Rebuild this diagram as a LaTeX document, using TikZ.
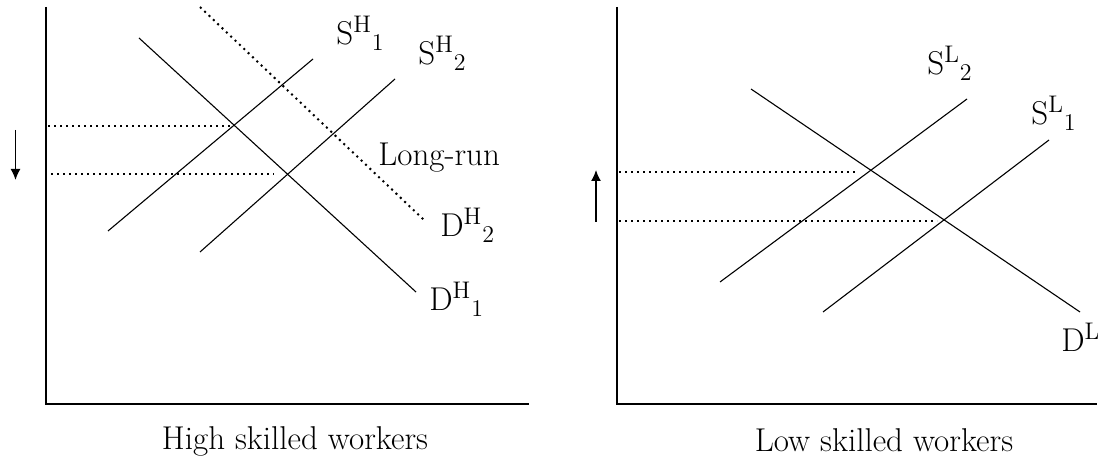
\documentclass[tikz,border=0pt]{standalone}
\usepackage{tikz}
\usetikzlibrary{arrows.meta,positioning}

\begin{document}
\begin{tikzpicture}[x=0.5pt, y=-0.5pt,
    every node/.style={font=\fontsize{16.5}{18}\selectfont, inner sep=0pt},
    curve/.style={line width=0.55pt},
    guide/.style={line width=1pt, dotted},
    axis/.style={line width=0.7pt},
    wagearrow/.style={line width=0.7pt, -{Latex[length=5.5pt,width=5pt]}}]
  \useasboundingbox (0,0) rectangle (1098,464);
  % high skilled panel
  \coordinate (hO) at (46,404);
  \coordinate (hY) at (46,7);
  \coordinate (hX) at (529,404);
  \draw[axis] (hY) -- (hO) -- (hX);
  \coordinate (dha) at (139,38);   \coordinate (dhb) at (416,292);
  \coordinate (sha) at (108,231);  \coordinate (shb) at (313,59);
  \coordinate (sua) at (200,252);  \coordinate (sub) at (395,79);
  \coordinate (dla) at (200,7);    \coordinate (dlb) at (424,220);
  \draw[curve] (dha) -- (dhb);
  \draw[curve] (sha) -- (shb);
  \draw[curve] (sua) -- (sub);
  \draw[guide] (dla) -- (dlb);
  \coordinate (hp1) at (48,126);  \coordinate (he1) at (232,126);
  \coordinate (hp2) at (51,174);  \coordinate (he2) at (274,174);
  \draw[guide] (hp1) -- (he1);
  \draw[guide] (hp2) -- (he2);
  \coordinate (hat) at (15.5,130); \coordinate (hah) at (15.5,180);
  \draw[wagearrow] (hat) -- (hah);
  \node[anchor=base west] (lSH1) at (336,45) {S$^{\mathrm{H}}{}_{1}$};
  \node[anchor=base west] (lSH2) at (418,65) {S$^{\mathrm{H}}{}_{2}$};
  \node[anchor=base west] (lLR) at (378,166) {Long-run};
  \node[anchor=base west] (lDH2) at (440,237) {D$^{\mathrm{H}}{}_{2}$};
  \node[anchor=base west] (lDH1) at (429,311) {D$^{\mathrm{H}}{}_{1}$};
  \node[anchor=base] (hcap) at (295,450) {High skilled workers};
  % low skilled panel
  \coordinate (lO) at (617,404);
  \coordinate (lY) at (617,7);
  \coordinate (lX) at (1097,404);
  \draw[axis] (lY) -- (lO) -- (lX);
  \coordinate (dLa) at (751,89);   \coordinate (dLb) at (1080,312);
  \coordinate (s2a) at (720,282);  \coordinate (s2b) at (967,99);
  \coordinate (s1a) at (823,312);  \coordinate (s1b) at (1049,140);
  \draw[curve] (dLa) -- (dLb);
  \draw[curve] (s2a) -- (s2b);
  \draw[curve] (s1a) -- (s1b);
  \coordinate (lp1) at (619,172); \coordinate (le1) at (856,172);
  \coordinate (lp2) at (619,221); \coordinate (le2) at (937,221);
  \draw[guide] (lp1) -- (le1);
  \draw[guide] (lp2) -- (le2);
  \coordinate (lat) at (596,222); \coordinate (lah) at (596,170);
  \draw[wagearrow] (lat) -- (lah);
  \node[anchor=base west] (lSL2) at (927,75) {S$^{\mathrm{L}}{}_{2}$};
  \node[anchor=base west] (lSL1) at (1031,125) {S$^{\mathrm{L}}{}_{1}$};
  \node[anchor=base west] (lDL) at (1061,352) {D$^{\mathrm{L}}$};
  \node[anchor=base] (lcap) at (884,452) {Low skilled workers};
\end{tikzpicture}
\end{document}
